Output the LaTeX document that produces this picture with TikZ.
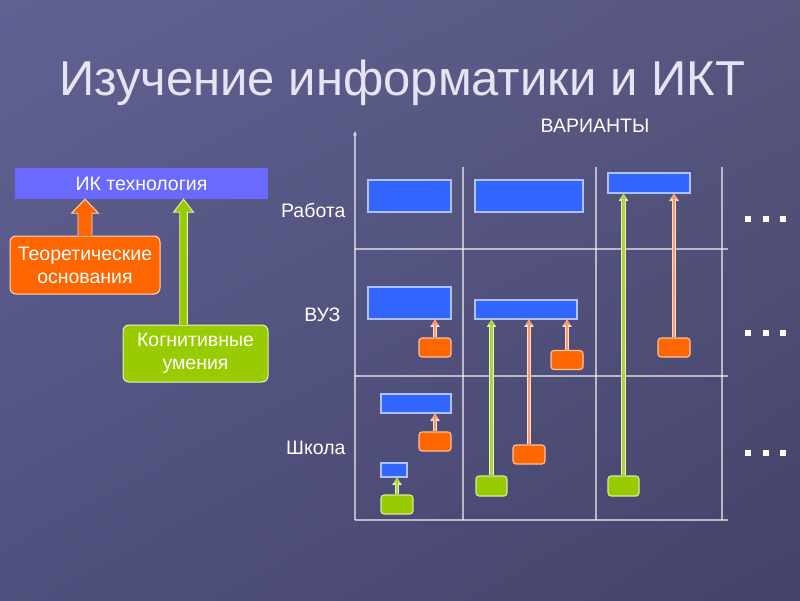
\documentclass[tikz,border=0pt]{standalone}
\usepackage{fontspec}
\setmainfont{Liberation Sans}
\usetikzlibrary{arrows.meta,calc,shadings}
\definecolor{bgUL}{HTML}{616293}
\definecolor{bgUR}{HTML}{56567F}
\definecolor{bgLL}{HTML}{50507E}
\definecolor{bgLR}{HTML}{434369}
\definecolor{titlec}{HTML}{E4E4F4}
\definecolor{ikblue}{HTML}{6A6AFF}
\definecolor{bblue}{HTML}{3366FF}
\definecolor{borange}{HTML}{FF6600}
\definecolor{bgreen}{HTML}{99CC00}
\definecolor{lorange}{HTML}{FF9966}
\definecolor{lgreen}{HTML}{AED63A}
\tikzset{
  lbl/.style={text=white, font=\fontsize{19.5}{23}\selectfont},
  bigbox/.style={rounded corners=6pt, draw=white!75!#1, line width=1pt, fill=#1, inner sep=0pt,
     text=white, align=center, font=\fontsize{19.5}{23}\selectfont},
  bbox/.style={draw=white!60!bblue, line width=1.1pt, fill=bblue, inner sep=0pt},
  sbox/.style={draw=white!60!#1, line width=1.1pt, fill=#1, inner sep=0pt, rounded corners=3pt,
     minimum width=32pt, minimum height=19pt},
  conn/.style={draw=#1, line width=2.8pt, preaction={draw=white!70!#1, line width=4.4pt},
     -{Triangle[length=2pt 1.2, width=2pt 1.6]}},
  gridline/.style={draw=white, draw opacity=0.6, line width=1.3pt},
  blockarrow/.style={fill=#1, draw=white!75!#1, line width=0.9pt},
  dotsq/.style={fill=white, minimum size=6pt, inner sep=0pt}
}
\begin{document}
\begin{tikzpicture}[x=1pt,y=-1pt]
\shade[upper left=bgUL, upper right=bgUR, lower left=bgLL, lower right=bgLR] (0,0) rectangle (800,600);
\useasboundingbox (0,0) rectangle (800,600);

% title
\node[text=titlec, font=\fontsize{49}{58}\selectfont, anchor=base] (title) at (402,95) {Изучение информатики и ИКТ};

% left part
\node[fill=ikblue, inner sep=0pt, minimum width=253pt, minimum height=31pt, text=white,
  font=\fontsize{19.5}{23}\selectfont] (ik) at (141.5,183.5) {ИК технология};
\node[bigbox=borange, minimum width=150pt, minimum height=58pt] (teo) at (85,265) {Теоретические\\основания};
\node[bigbox=bgreen, minimum width=145pt, minimum height=57pt] (cog) at (195.5,353.5) {Когнитивные\\умения};

\coordinate (ta) at (teo.north |- ik.south);
\draw[blockarrow=borange] ($(teo.north)+(-7,0)$) -- ($(ta)+(-7,14)$) -- ($(ta)+(-13.5,14)$) -- (ta)
   -- ($(ta)+(13.5,14)$) -- ($(ta)+(7,14)$) -- ($(teo.north)+(7,0)$);
\coordinate (cb) at ($(cog.north)+(-12,0)$);
\coordinate (ca) at (cb |- ik.south);
\draw[blockarrow=bgreen] ($(cb)+(-3.8,0)$) -- ($(ca)+(-3.8,13)$) -- ($(ca)+(-10,13)$) -- (ca)
   -- ($(ca)+(10,13)$) -- ($(ca)+(3.8,13)$) -- ($(cb)+(3.8,0)$);

% grid
\coordinate (ax0) at (355,520);
\coordinate (ax1) at (355,131);
\draw[gridline, -{Stealth[length=5pt,width=4pt]}] (ax0) -- (ax1);
\foreach \x in {463,596,722} \draw[gridline] (\x,167) -- (\x,520);
\foreach \y in {249,376,520} \draw[gridline] (355,\y) -- (728,\y);

\node[lbl] (var) at (595,126) {ВАРИАНТЫ};
\node[lbl, anchor=east] (rab) at (349,210) {Работа};
\node[lbl, anchor=east] (vuz) at (344,315) {ВУЗ};
\node[lbl, anchor=east] (shk) at (349,448) {Школа};

% blue boxes
\node[bbox, minimum width=83pt, minimum height=32pt] (b1) at (409.5,196) {};
\node[bbox, minimum width=108pt, minimum height=32pt] (b2) at (529,196) {};
\node[bbox, minimum width=82pt, minimum height=20pt] (b3) at (649,183) {};
\node[bbox, minimum width=83pt, minimum height=32pt] (b4) at (409.5,303) {};
\node[bbox, minimum width=102pt, minimum height=19pt] (b5) at (526,309.5) {};
\node[bbox, minimum width=70pt, minimum height=19pt] (b6) at (416,403.5) {};
\node[bbox, minimum width=26pt, minimum height=14pt] (b7) at (394,470) {};

% small boxes
\node[sbox=borange] (o1) at (435,347.5) {};
\node[sbox=borange] (o2) at (567,360) {};
\node[sbox=borange] (o3) at (674,347.5) {};
\node[sbox=borange] (o4) at (435,441.5) {};
\node[sbox=borange] (o5) at (529,454.5) {};
\node[sbox=bgreen] (g1) at (397,504.5) {};
\node[sbox=bgreen, minimum width=31pt, minimum height=20pt] (g2) at (491.5,486) {};
\node[sbox=bgreen, minimum width=31pt, minimum height=20pt] (g3) at (623.5,486) {};

% connectors
\draw[conn=lorange] (o1.north) -- (o1.north |- b4.south);
\draw[conn=lorange] (o2.north) -- (o2.north |- b5.south);
\draw[conn=lorange] (o3.north) -- (o3.north |- b3.south);
\draw[conn=lorange] (o4.north) -- (o4.north |- b6.south);
\draw[conn=lorange] (o5.north) -- (o5.north |- b5.south);
\draw[conn=lgreen] (g1.north) -- (g1.north |- b7.south);
\draw[conn=lgreen] (g2.north) -- (g2.north |- b5.south);
\draw[conn=lgreen] (g3.north) -- (g3.north |- b3.south);

% dots
\foreach \y in {219,333,453} {
  \foreach \x in {748,766,783} \node[dotsq] at (\x,\y) {};
}
\end{tikzpicture}
\end{document}
